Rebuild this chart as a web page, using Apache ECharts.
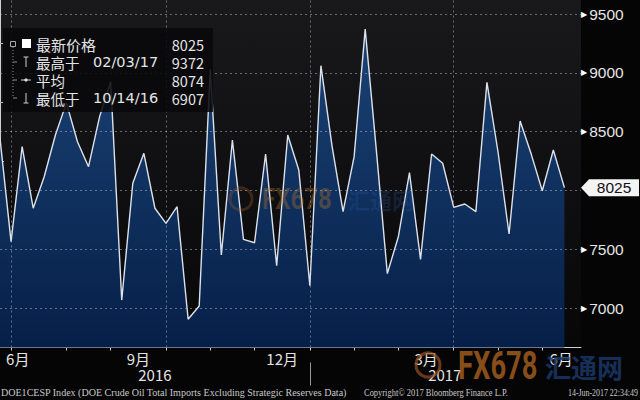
<!DOCTYPE html>
<html><head><meta charset="utf-8">
<script src="https://cdn.jsdelivr.net/npm/echarts@6/dist/echarts.min.js"></script>
<style>html,body{margin:0;padding:0;background:#050505}#c{width:640px;height:400px}</style>
</head><body><div id="c"></div>
<script>
// ---- data (weekly, DOE crude oil total imports excl. SPR) ----
const dates = [
 '2016-06-17','2016-06-24','2016-07-01','2016-07-08','2016-07-15','2016-07-22','2016-07-29',
 '2016-08-05','2016-08-12','2016-08-19','2016-08-26','2016-09-02','2016-09-09','2016-09-16',
 '2016-09-23','2016-09-30','2016-10-07','2016-10-14','2016-10-21','2016-10-28','2016-11-04',
 '2016-11-11','2016-11-18','2016-11-25','2016-12-02','2016-12-09','2016-12-16','2016-12-23',
 '2016-12-30','2017-01-06','2017-01-13','2017-01-20','2017-01-27','2017-02-03','2017-02-10',
 '2017-02-17','2017-02-24','2017-03-03','2017-03-10','2017-03-17','2017-03-24','2017-03-31',
 '2017-04-07','2017-04-14','2017-04-21','2017-04-28','2017-05-05','2017-05-12','2017-05-19',
 '2017-05-26','2017-06-02','2017-06-09'
];
const values = [
 8444,7566,8373,7850,8120,8470,8745,8415,8203,8628,
 8925,7070,8062,8317,7850,7722,7863,6907,7020,9030,
 7453,8430,7586,7557,8311,7362,8472,8175,7192,9061,
 8380,7821,8288,9372,8350,7295,7610,8152,7416,8311,
 8232,7858,7886,7821,8920,8330,7631,8591,8310,7999,
 8345,8025
];
const avgValue = 8074;
const yTicks = [7000,7500,8000,8500,9000,9500];
const yMinorTicks = [6750,7250,7750,8250,8750,9250];
const monthLabels = ['6月','9月','12月','3月','6月'];
const monthLabelPos = [1.6,12.5,25.5,38.5,50.7];
const yearLabels = ['2016','2017'];
const yearLabelPos = [14,40.2];
const legendNames = ['最新价格','最高于','平均','最低于'];
const footLeft = 'DOE1CESP Index (DOE Crude Oil Total Imports Excluding Strategic Reserves Data)';
const footMid = 'Copyright\u00a9 2017 Bloomberg Finance L.P.';
const footRight = '14-Jun-2017 22:34:49';

// ---- derived ----
const X_MAX = 52.5, Y_MIN = 6667, Y_MAX = 9619;
const mon = d => +d.slice(5,7);
const monthTicks = [], quarterTicks = [];
let yearBoundary = null;
for (let i = 0; i < dates.length - 1; i++) {
  if (mon(dates[i]) !== mon(dates[i+1])) {
    monthTicks.push(i);
    if ([1,4,7,10].includes(mon(dates[i+1]))) quarterTicks.push(i);
    if (dates[i].slice(0,4) !== dates[i+1].slice(0,4)) yearBoundary = i;
  }
}
const last = values[values.length-1];
let iMax = 0, iMin = 0;
values.forEach((v,i)=>{ if (v>values[iMax]) iMax=i; if (v<values[iMin]) iMin=i; });
const fmtDate = d => d.slice(5,7)+'/'+d.slice(8,10)+'/'+d.slice(2,4);
const yLabelVals = yTicks.filter(v => Math.abs(v-last) > 150);
const nearest = (arr, v) => { let b=0; arr.forEach((a,i)=>{ if (Math.abs(a-v)<Math.abs(arr[b]-v)) b=i; }); return b; };

const CJK = '"Noto Sans CJK SC", "Liberation Sans", sans-serif';
const TXT = '#e4e4e4';

// footnote fitting (condensed Bloomberg-like text)
const FOOT_FONT = '"Liberation Serif", serif';
const mctx = document.createElement('canvas').getContext('2d');
mctx.font = '10px ' + FOOT_FONT;
const fitScale = (t, w) => w / mctx.measureText(t).width;

const chart = echarts.init(document.getElementById('c'), null, {renderer:'svg'});
const lgY = [44, 62, 80, 98];
const legendText = (txt, x, y, align, fam, size) => ({type:'text', x, y, z:21,
  style:{text:txt, fill:TXT, fontSize:size||14.5, fontFamily:fam||CJK, lineHeight:15, textAlign:align, align, textVerticalAlign:'middle', verticalAlign:'middle'}});
const footText = (txt, x, w) => ({type:'text', x, y:393, z:21, scaleX:fitScale(txt,w),
  style:{text:txt, fill:'#c8c8c8', fontSize:10, fontFamily:FOOT_FONT, lineHeight:10, textAlign:'left', align:'left', textVerticalAlign:'middle', verticalAlign:'middle'}});
chart.setOption({
  backgroundColor:'#050505',
  animation:false,
  grid:{left:0, right:59, top:0, bottom:52.5, show:true, borderWidth:0,
    backgroundColor:{type:'linear',x:0,y:0,x2:0,y2:1,colorStops:[{offset:0,color:'#19191c'},{offset:1,color:'#070708'}]}},
  xAxis:[
    {type:'value', min:0, max:X_MAX, position:'bottom',
     axisLine:{show:true, lineStyle:{color:'#d0d0d0', width:1}},
     axisTick:{show:true, customValues:monthTicks, length:3, lineStyle:{color:'#c8c8c8'}},
     axisLabel:{show:true, customValues:monthLabelPos, margin:3, color:TXT, fontSize:15, fontFamily:CJK,
       formatter:v=>monthLabels[nearest(monthLabelPos,v)]},
     splitLine:{show:false}},
    {type:'value', min:0, max:X_MAX, position:'bottom', offset:15,
     axisLine:{show:false},
     axisTick:{show:true, customValues:[yearBoundary], length:23, lineStyle:{color:'#9a9a9a'}},
     axisLabel:{show:true, customValues:yearLabelPos, margin:4, color:TXT, fontSize:15, fontFamily:CJK,
       formatter:v=>yearLabels[nearest(yearLabelPos,v)]},
     splitLine:{show:false}}
  ],
  yAxis:[{type:'value', position:'right', min:Y_MIN, max:Y_MAX,
    axisLine:{show:true, lineStyle:{color:'#d0d0d0'}},
    axisTick:{show:true, customValues:yMinorTicks, length:4, lineStyle:{color:'#bcbcbc'}},
    axisLabel:{show:true, customValues:yLabelVals, margin:0,
      formatter:v=>'{a|\u25B6}{b|'+v+'}',
      rich:{a:{color:'#ffffff', fontSize:8, padding:[0,2,0,0], fontFamily:'DejaVu Sans'},
            b:{color:TXT, fontSize:15.5, fontFamily:'"Liberation Sans", sans-serif'}}},
    splitLine:{show:false}}],
  series:[{
    type:'line', xAxisIndex:0, yAxisIndex:0,
    data:values.map((v,i)=>[i,v]),
    symbol:'none',
    lineStyle:{color:'#dde2ea', width:1.4},
    areaStyle:{origin:'start', opacity:1, color:{type:'linear',x:0,y:0,x2:0,y2:347.5,global:true,
      colorStops:[{offset:0,color:'#1c4679'},{offset:1,color:'#061f48'}]}},
    markLine:{silent:true, symbol:'none', label:{show:false}, animation:false,
      lineStyle:{type:[2,3], color:'rgba(190,190,195,0.5)', width:1},
      data:[...yTicks.map(v=>({yAxis:v})), ...quarterTicks.map(v=>({xAxis:v}))]},
    markPoint:{silent:true, animation:false,
      data:[{coord:[X_MAX, last], value:last}],
      symbol:'path://M0,8.5 L8,0 L58,0 L58,17 L8,17 Z', symbolKeepAspect:false,
      symbolSize:[58,17], symbolOffset:[29,0],
      itemStyle:{color:'#f4f4f4'},
      label:{show:true, position:'inside', offset:[4,0], color:'#111', fontSize:15.5,
        fontFamily:'"Liberation Sans", sans-serif', formatter:p=>String(p.value)}}
  }],
  graphic:[
    // watermark (centre)
    {type:'circle', shape:{cx:241, cy:199, r:11}, style:{fill:'none', stroke:'rgba(150,85,40,0.35)', lineWidth:3}, z:5},
    {type:'text', x:262, y:199, z:5, scaleX:0.8, style:{text:'FX678', fill:'rgba(190,120,40,0.35)', fontSize:30, fontWeight:'bold', fontFamily:'Roboto', textVerticalAlign:'middle', verticalAlign:'middle'}},
    {type:'text', x:348, y:199, z:5, style:{text:'汇通网', fill:'rgba(40,90,170,0.25)', fontSize:22, fontWeight:'bold', fontFamily:CJK, textVerticalAlign:'middle', verticalAlign:'middle'}},
    // watermark (bottom right)
    {type:'circle', shape:{cx:428, cy:365, r:12}, style:{fill:'none', stroke:'rgba(150,80,35,0.7)', lineWidth:3}, z:5},
    {type:'text', x:458, y:366, z:5, scaleX:0.72, style:{text:'FX678', fill:'rgba(160,92,30,0.85)', fontSize:38, fontWeight:'bold', fontFamily:'Roboto', textVerticalAlign:'middle', verticalAlign:'middle'}},
    {type:'text', x:545, y:366, z:5, style:{text:'汇通网', fill:'rgba(26,55,105,0.85)', fontSize:26, fontWeight:'bold', fontFamily:CJK, textVerticalAlign:'middle', verticalAlign:'middle'}},
    // legend box
    {type:'rect', shape:{x:3, y:28, width:210, height:84}, style:{fill:'rgba(9,9,11,0.88)'}, z:20},
    {type:'rect', shape:{x:10.5, y:41.5, width:5, height:5}, style:{fill:'none', stroke:'#aaaaaa', lineWidth:1}, z:21},
    {type:'line', shape:{x1:13, y1:47, x2:13, y2:98}, style:{stroke:'#8a8a8a', lineWidth:1, lineDash:[1,2]}, z:21},
    {type:'line', shape:{x1:13, y1:62, x2:17, y2:62}, style:{stroke:'#8a8a8a', lineWidth:1}, z:21},
    {type:'line', shape:{x1:13, y1:80, x2:17, y2:80}, style:{stroke:'#8a8a8a', lineWidth:1}, z:21},
    {type:'line', shape:{x1:13, y1:98, x2:17, y2:98}, style:{stroke:'#8a8a8a', lineWidth:1}, z:21},
    {type:'rect', shape:{x:22, y:39, width:9, height:9}, style:{fill:'#ffffff'}, z:21},
    {type:'line', shape:{x1:26, y1:57, x2:26, y2:67}, style:{stroke:'#cfcfcf', lineWidth:1}, z:21},
    {type:'line', shape:{x1:23.5, y1:57, x2:28.5, y2:57}, style:{stroke:'#cfcfcf', lineWidth:1}, z:21},
    {type:'line', shape:{x1:21, y1:80, x2:31, y2:80}, style:{stroke:'#cfcfcf', lineWidth:1}, z:21},
    {type:'circle', shape:{cx:26, cy:80, r:1.6}, style:{fill:'#e0e0e0'}, z:21},
    {type:'line', shape:{x1:26, y1:93, x2:26, y2:103}, style:{stroke:'#cfcfcf', lineWidth:1}, z:21},
    {type:'line', shape:{x1:23.5, y1:103, x2:28.5, y2:103}, style:{stroke:'#cfcfcf', lineWidth:1}, z:21},
    legendText(legendNames[0], 36, lgY[0], 'left', null, 15),
    legendText(String(last), 204, lgY[0], 'right'),
    legendText(legendNames[1], 36, lgY[1], 'left'),
    legendText(fmtDate(dates[iMax]), 93, lgY[1], 'left', '"DejaVu Sans", sans-serif', 14.5),
    legendText(String(values[iMax]), 204, lgY[1], 'right'),
    legendText(legendNames[2], 36, lgY[2], 'left'),
    legendText(String(avgValue), 204, lgY[2], 'right'),
    legendText(legendNames[3], 36, lgY[3], 'left'),
    legendText(fmtDate(dates[iMin]), 93, lgY[3], 'left', '"DejaVu Sans", sans-serif', 14.5),
    legendText(String(values[iMin]), 204, lgY[3], 'right'),
    // footnote
    footText(footLeft, 1, 346),
    footText(footMid, 364, 144),
    footText(footRight, 568, 70)
  ]
});
</script></body></html>
